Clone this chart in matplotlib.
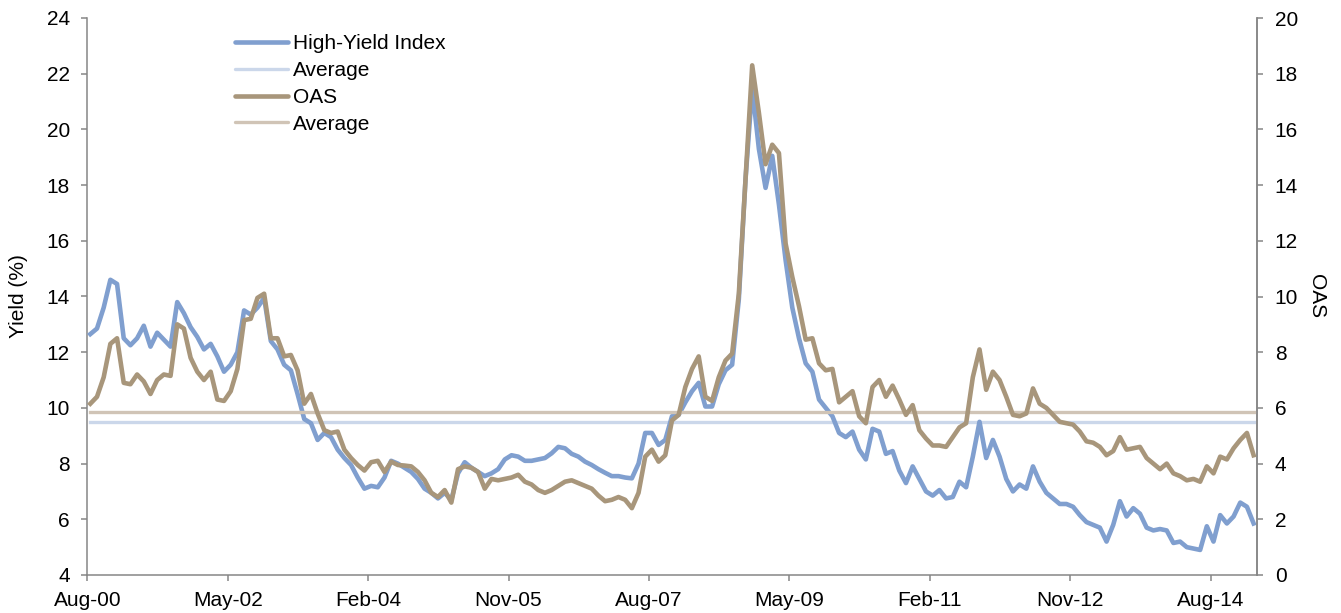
import numpy as np
import matplotlib
matplotlib.use("Agg")
import matplotlib.pyplot as plt

plt.rcParams['font.family'] = ['Liberation Sans', 'DejaVu Sans']

# ---------------- data ----------------
tick_labels = ["Aug-00", "May-02", "Feb-04", "Nov-05", "Aug-07",
               "May-09", "Feb-11", "Nov-12", "Aug-14"]
tick_months = [0, 21, 42, 63, 84, 105, 126, 147, 168]

high_yield = [
    12.65, 12.85, 13.6, 14.6, 14.45, 12.5, 12.25, 12.5, 12.95, 12.2,
    12.7, 12.45, 12.2, 13.8, 13.4, 12.9, 12.55, 12.1, 12.3, 11.85,
    11.3, 11.55, 12.0, 13.5, 13.35, 13.6, 13.95, 12.4, 12.1, 11.55,
    11.35, 10.5, 9.6, 9.45, 8.85, 9.1, 8.95, 8.5, 8.2, 7.95,
    7.5, 7.1, 7.2, 7.15, 7.5, 8.1, 8.0, 7.85, 7.7, 7.45,
    7.1, 6.95, 6.75, 6.95, 6.7, 7.65, 8.05, 7.85, 7.7, 7.55,
    7.65, 7.8, 8.15, 8.3, 8.25, 8.1, 8.1, 8.15, 8.2, 8.37,
    8.6, 8.55, 8.35, 8.25, 8.07, 7.95, 7.8, 7.67, 7.55, 7.55,
    7.5, 7.47, 8.0, 9.1, 9.1, 8.67, 8.85, 9.7, 9.75, 10.2,
    10.6, 10.9, 10.05, 10.05, 10.85, 11.35, 11.55, 13.9, 18.2, 21.5,
    19.3, 17.9, 19.05, 17.3, 15.3, 13.6, 12.5, 11.6, 11.3, 10.3,
    10.0, 9.7, 9.1, 8.95, 9.15, 8.5, 8.15, 9.25, 9.15, 8.35,
    8.45, 7.75, 7.3, 7.9, 7.45, 7.0, 6.85, 7.05, 6.75, 6.8,
    7.35, 7.15, 8.25, 9.5, 8.2, 8.85, 8.25, 7.45, 7.0, 7.25,
    7.1, 7.9, 7.35, 6.95, 6.75, 6.55, 6.55, 6.45, 6.15, 5.9,
    5.8, 5.7, 5.2, 5.8, 6.65, 6.1, 6.4, 6.2, 5.7, 5.6,
    5.65, 5.6, 5.15, 5.2, 5.0, 4.95, 4.9, 5.75, 5.2, 6.15,
    5.85, 6.1, 6.6, 6.45, 5.85,
]

oas = [
    6.15, 6.4, 7.1, 8.3, 8.5, 6.9, 6.85, 7.2, 6.95, 6.5,
    7.0, 7.2, 7.15, 9.0, 8.85, 7.8, 7.3, 7.0, 7.3, 6.3,
    6.25, 6.6, 7.4, 9.15, 9.2, 9.95, 10.1, 8.5, 8.5, 7.85,
    7.9, 7.35, 6.15, 6.5, 5.8, 5.2, 5.1, 5.15, 4.5, 4.2,
    3.95, 3.75, 4.05, 4.1, 3.7, 4.07, 3.95, 3.93, 3.9, 3.7,
    3.4, 2.95, 2.8, 3.05, 2.6, 3.8, 3.9, 3.85, 3.7, 3.1,
    3.45, 3.4, 3.45, 3.5, 3.6, 3.35, 3.25, 3.05, 2.95, 3.05,
    3.2, 3.35, 3.4, 3.3, 3.2, 3.1, 2.85, 2.65, 2.7, 2.8,
    2.7, 2.4, 2.95, 4.25, 4.5, 4.07, 4.3, 5.55, 5.75, 6.75,
    7.4, 7.85, 6.4, 6.25, 7.1, 7.7, 7.95, 10.1, 14.2, 18.3,
    16.6, 14.75, 15.45, 15.15, 11.9, 10.7, 9.65, 8.45, 8.5, 7.6,
    7.35, 7.4, 6.2, 6.4, 6.6, 5.7, 5.45, 6.75, 7.0, 6.4,
    6.8, 6.3, 5.75, 6.1, 5.2, 4.9, 4.65, 4.65, 4.6, 4.95,
    5.3, 5.45, 7.1, 8.1, 6.65, 7.3, 7.0, 6.4, 5.75, 5.7,
    5.8, 6.7, 6.15, 6.0, 5.75, 5.5, 5.45, 5.4, 5.15, 4.8,
    4.75, 4.6, 4.3, 4.45, 4.95, 4.5, 4.55, 4.6, 4.2, 4.0,
    3.8, 4.0, 3.65, 3.55, 3.4, 3.45, 3.35, 3.9, 3.65, 4.25,
    4.15, 4.55, 4.85, 5.1, 4.3,
]

hy_average = 9.5
oas_average = 5.84

# ---------------- styling ----------------
C_HY = "#809fcf"
C_HY_AVG = "#cbd7ea"
C_OAS = "#a8967b"
C_OAS_AVG = "#d0c4b6"
C_AXIS = "#868686"
FS = 15

n = len(high_yield)
x = np.arange(n) + 0.45

fig = plt.figure(figsize=(13.41, 6.13), dpi=100)
ax = fig.add_axes([87.3 / 1341, 1 - 575 / 613, 1170 / 1341, 557 / 613])
ax2 = ax.twinx()

l1, = ax.plot(x, high_yield, color=C_HY, lw=3.3, solid_joinstyle='round',
              label="High-Yield Index", zorder=3)
l2, = ax.plot(x, np.full(n, hy_average), color=C_HY_AVG, lw=2.4,
              label="Average", zorder=2)
l3, = ax2.plot(x, oas, color=C_OAS, lw=3.3, solid_joinstyle='round',
               label="OAS", zorder=3)
l4, = ax2.plot(x, np.full(n, oas_average), color=C_OAS_AVG, lw=2.4,
               label="Average", zorder=2)

ax.set_xlim(0, 175)
ax.set_ylim(4, 24)
ax2.set_ylim(0, 20)
ax.set_yticks(np.arange(4, 25, 2))
ax2.set_yticks(np.arange(0, 21, 2))
ax.set_xticks(tick_months)
ax.set_xticklabels(tick_labels)

for a in (ax, ax2):
    a.spines['top'].set_visible(False)
    for s in ('left', 'right', 'bottom'):
        a.spines[s].set_color(C_AXIS)
        a.spines[s].set_linewidth(1.1)
    a.tick_params(axis='both', colors=C_AXIS, labelcolor='black',
                  labelsize=FS, length=4.5, width=1.1, direction='out')
ax.tick_params(axis='y', pad=8)
ax.tick_params(axis='x', pad=7)
ax2.tick_params(axis='y', pad=8)
ax2.spines['left'].set_visible(False)
ax2.spines['bottom'].set_visible(False)

fig.text(18 / 1341, 1 - 296 / 613, "Yield (%)", rotation=90,
         ha='center', va='center', fontsize=FS)
fig.text(1316 / 1341, 1 - 296 / 613, "OAS", rotation=270,
         ha='center', va='center', fontsize=FS)

leg = ax2.legend(handles=[l1, l2, l3, l4], loc='upper left',
                 bbox_to_anchor=((235 - 87.3) / 1170, (575 - 34) / 557),
                 frameon=False, fontsize=FS, handlelength=2.55,
                 handletextpad=0.24, labelspacing=0.38, borderpad=0,
                 borderaxespad=0)
for h in leg.get_lines():
    h.set_solid_capstyle('round')

fig.savefig("out.png", dpi=100)
